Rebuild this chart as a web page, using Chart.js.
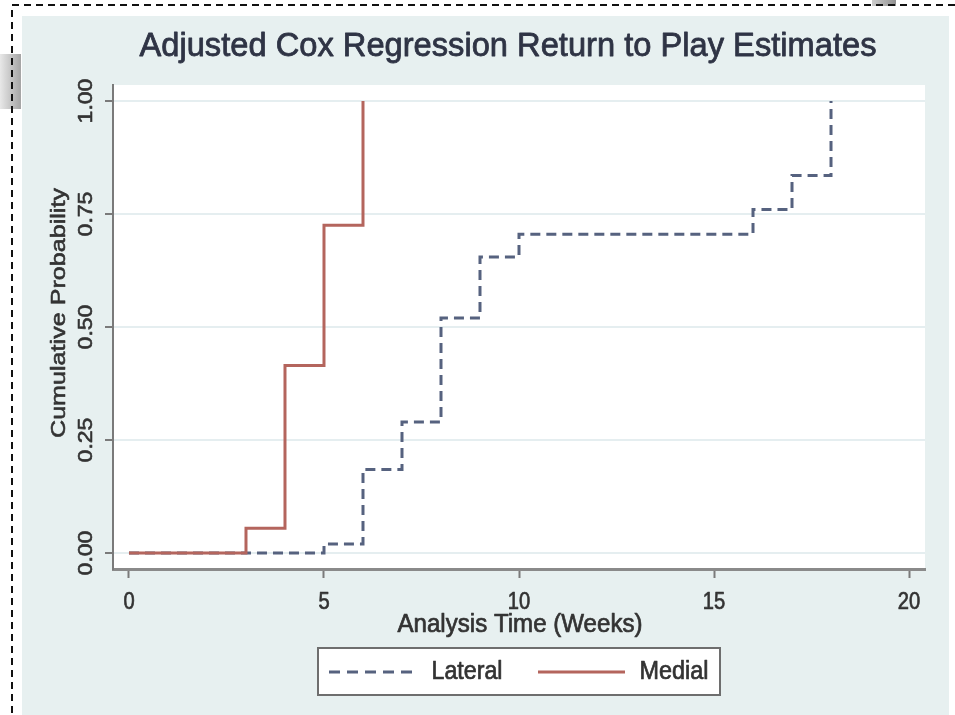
<!DOCTYPE html>
<html>
<head>
<meta charset="utf-8">
<title>Adjusted Cox Regression Return to Play Estimates</title>
<script src="https://cdn.jsdelivr.net/npm/chart.js@4.4.1/dist/chart.umd.min.js"></script>
<style>
  html, body { margin: 0; padding: 0; background: #ffffff; }
  canvas { display: block; }
</style>
</head>
<body>
<canvas id="km" width="955" height="715"></canvas>
<script>
// Step points: time in weeks and cumulative probability after each event
const lateralWeeks = [0, 5, 6, 7, 8, 9, 10, 16, 17, 18];
const lateralProb  = [0, 0.02, 0.185, 0.29, 0.52, 0.655, 0.705, 0.76, 0.835, 1.0];
const medialWeeks  = [0, 3, 4, 5, 6];
const medialProb   = [0, 0.055, 0.415, 0.725, 1.0];

const xTicks = [0, 5, 10, 15, 20];
const yTicks = [0, 0.25, 0.5, 0.75, 1.0];
const yTickLabels = ['0.00', '0.25', '0.50', '0.75', '1.00'];

const titleText = 'Adjusted Cox Regression Return to Play Estimates';
const xTitle = 'Analysis Time (Weeks)';
const yTitle = 'Cumulative Probability';
const seriesNames = ['Lateral', 'Medial'];

const NAVY = '#56627f';
const RED = '#b4655d';
const PANEL = '#e7f0f0';
const FONT = '"Liberation Sans", Arial, sans-serif';
const TEXT_SX = 0.84;

function toPoints(xs, ys) {
  return xs.map((x, i) => ({ x: x, y: ys[i] }));
}

// Condensed, slightly heavy text in the style of the graph font
function drawText(ctx, s, x, y, size, opt) {
  opt = opt || {};
  ctx.save();
  ctx.font = size + 'px ' + FONT;
  ctx.fillStyle = opt.color || '#333333';
  ctx.strokeStyle = opt.color || '#333333';
  ctx.lineWidth = opt.stroke == null ? 0.7 : opt.stroke;
  ctx.lineJoin = 'round';
  ctx.textAlign = 'center';
  ctx.textBaseline = 'middle';
  let sxv = opt.sx || TEXT_SX;
  if (opt.fitWidth) {
    sxv = opt.fitWidth / ctx.measureText(s).width;
  }
  ctx.translate(x, y);
  ctx.scale(sxv, 1);
  if (opt.rotate) {
    ctx.rotate(-Math.PI / 2);
    if (opt.fitLength) {
      const k = opt.fitLength / ctx.measureText(s).width;
      ctx.scale(k, 1);
    }
  }
  ctx.fillText(s, 0, 0);
  if (ctx.lineWidth > 0) ctx.strokeText(s, 0, 0);
  ctx.restore();
}

const framePlugin = {
  id: 'frame',
  beforeDraw(chart) {
    const ctx = chart.ctx;
    const a = chart.chartArea;
    ctx.save();
    // page and outer panel
    ctx.fillStyle = '#ffffff';
    ctx.fillRect(0, 0, chart.width, chart.height);
    ctx.fillStyle = PANEL;
    ctx.fillRect(22, 16, 927, chart.height - 16);
    // plot region
    ctx.fillStyle = '#ffffff';
    ctx.fillRect(a.left, a.top, a.right - a.left, a.bottom - a.top);

    // grey tabs at the edges
    let g = ctx.createLinearGradient(0, 0, 21, 0);
    g.addColorStop(0, '#e8e8e8');
    g.addColorStop(1, '#a4a4a4');
    ctx.fillStyle = g;
    ctx.fillRect(0, 54, 21, 55);
    g = ctx.createLinearGradient(872, 0, 896, 0);
    g.addColorStop(0, '#cccccc');
    g.addColorStop(1, '#929292');
    ctx.fillStyle = g;
    ctx.fillRect(872, 0, 24, 6);

    // dashed cut line
    ctx.strokeStyle = '#111111';
    ctx.lineWidth = 2;
    ctx.setLineDash([7, 5]);
    ctx.beginPath();
    ctx.moveTo(12, 5);
    ctx.lineTo(chart.width, 5);
    ctx.moveTo(12, 10);
    ctx.lineTo(12, chart.height);
    ctx.stroke();
    ctx.restore();
  },
  afterDraw(chart) {
    const ctx = chart.ctx;
    const xs = chart.scales.x;
    const ys = chart.scales.y;

    drawText(ctx, titleText, 508, 47, 33, { color: '#2f3445', fitWidth: 737, stroke: 0.8 });

    xTicks.forEach(v => {
      drawText(ctx, String(v), xs.getPixelForValue(v), 602, 24, { color: '#333333' });
    });
    yTicks.forEach((v, i) => {
      drawText(ctx, yTickLabels[i], 87, ys.getPixelForValue(v), 23, { color: '#333333', rotate: true });
    });

    drawText(ctx, xTitle, 520, 625, 25, { color: '#333333', fitWidth: 245 });
    drawText(ctx, yTitle, 59, 313, 25, { color: '#333333', rotate: true, fitLength: 250 });

    // legend
    ctx.save();
    ctx.fillStyle = '#ffffff';
    ctx.fillRect(318, 648, 402, 47);
    ctx.strokeStyle = '#6e6e6e';
    ctx.lineWidth = 2;
    ctx.strokeRect(318, 648, 402, 47);
    ctx.lineWidth = 3;
    ctx.strokeStyle = NAVY;
    ctx.setLineDash([11, 7]);
    ctx.beginPath();
    ctx.moveTo(329, 672);
    ctx.lineTo(418, 672);
    ctx.stroke();
    ctx.setLineDash([]);
    ctx.strokeStyle = RED;
    ctx.beginPath();
    ctx.moveTo(538, 672);
    ctx.lineTo(625, 672);
    ctx.stroke();
    ctx.restore();
    drawText(ctx, seriesNames[0], 467, 672, 25, { color: '#333333', fitWidth: 71 });
    drawText(ctx, seriesNames[1], 674, 672, 25, { color: '#333333', fitWidth: 69 });
  }
};

new Chart(document.getElementById('km'), {
  type: 'line',
  data: {
    datasets: [
      {
        label: seriesNames[0],
        data: toPoints(lateralWeeks, lateralProb),
        borderColor: NAVY,
        borderWidth: 3,
        borderDash: [10, 6],
        stepped: 'before',
        pointRadius: 0,
        fill: false,
        order: 2
      },
      {
        label: seriesNames[1],
        data: toPoints(medialWeeks, medialProb),
        borderColor: RED,
        borderWidth: 3,
        stepped: 'before',
        pointRadius: 0,
        fill: false,
        order: 1
      }
    ]
  },
  options: {
    responsive: false,
    animation: false,
    layout: { padding: { left: 105, right: 30, top: 85, bottom: 137 } },
    plugins: {
      legend: { display: false },
      title: { display: false },
      tooltip: { enabled: false }
    },
    scales: {
      x: {
        type: 'linear',
        min: -0.41,
        max: 20.41,
        afterBuildTicks: s => { s.ticks = xTicks.map(v => ({ value: v })); },
        ticks: { display: false },
        grid: {
          drawOnChartArea: false,
          drawTicks: true,
          tickLength: 9,
          tickWidth: 2,
          tickColor: '#7a7a7a'
        },
        border: { display: true, color: '#8a8a8a', width: 3 }
      },
      y: {
        type: 'linear',
        min: -0.0354,
        max: 1.0354,
        afterBuildTicks: s => { s.ticks = yTicks.map(v => ({ value: v })); },
        ticks: { display: false },
        grid: {
          color: '#e5eef0',
          lineWidth: 2,
          drawTicks: true,
          tickLength: 8,
          tickWidth: 2,
          tickColor: '#7a7a7a'
        },
        border: { display: true, color: '#7a7a7a', width: 2 }
      }
    }
  },
  plugins: [framePlugin]
});
</script>
</body>
</html>
